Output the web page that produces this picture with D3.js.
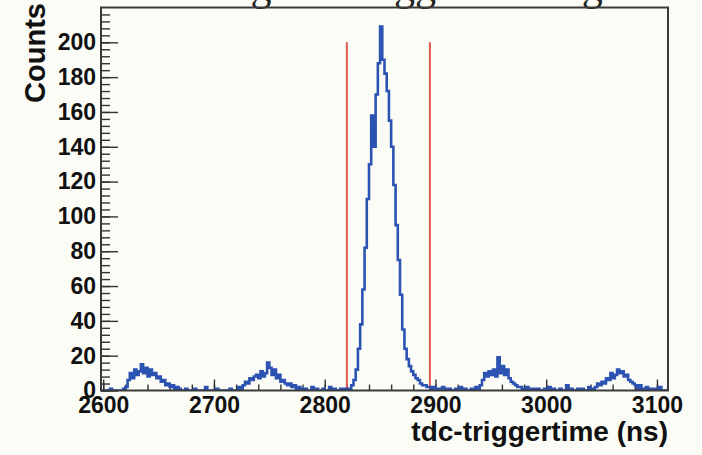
<!DOCTYPE html>
<html>
<head>
<meta charset="utf-8">
<script src="https://cdn.jsdelivr.net/npm/d3@7"></script>
<style>
  body { margin: 0; background: #fcfcf7; }
  svg { display: block; }
  .tick text { font-family: "Liberation Sans", Arial, sans-serif; font-weight: bold; fill: #111; }
</style>
</head>
<body>
<div id="chart"></div>
<script>
// histogram: 2 ns bins starting at 2598 ns
const binStart = 2598;
const binWidth = 2;
const counts = [
  // 2598 - 2618
  0, 0, 0, 0, 1, 0, 0, 0, 0, 0, 1,
  // 2620 - 2668
  2, 6, 10, 7, 12, 9, 11, 15, 10, 13, 8, 12, 9, 10, 7, 8, 5, 6, 3, 4, 2, 3, 1, 2, 1,
  // 2670 - 2724
  0, 0, 1, 0, 0, 0, 1, 0, 0, 0, 0, 2, 0, 0, 0, 0, 1, 0, 0, 0, 0, 0, 1, 0, 0, 0, 2, 1,
  // 2726 - 2778
  3, 5, 4, 7, 6, 8, 9, 7, 11, 8, 10, 16, 13, 9, 12, 7, 9, 5, 6, 4, 3, 4, 2, 3, 1, 2, 1,
  // 2780 - 2818
  0, 1, 0, 0, 2, 0, 1, 0, 0, 1, 0, 0, 2, 0, 1, 0, 0, 1, 0, 1,
  // 2820 - 2896 (main peak)
  0, 1, 3, 6, 12, 24, 38, 58, 82, 110, 130, 158, 140, 170, 188, 209, 190, 182, 172, 155,
  140, 118, 95, 75, 55, 35, 24, 18, 14, 11, 9, 7, 6, 4, 3, 3, 2, 2, 1,
  // 2898 - 2938
  2, 1, 0, 1, 2, 0, 1, 1, 0, 0, 1, 0, 2, 0, 1, 0, 0, 1, 0, 2, 1,
  // 2940 - 2988
  3, 6, 10, 8, 11, 9, 12, 8, 19, 10, 14, 9, 12, 7, 5, 4, 3, 2, 2, 1, 1, 2, 1, 0, 1,
  // 2990 - 3042
  0, 1, 0, 0, 1, 0, 2, 0, 1, 0, 0, 1, 0, 0, 3, 0, 1, 0, 0, 1, 0, 1, 0, 0, 2, 1, 1,
  // 3044 - 3094
  2, 4, 3, 5, 4, 7, 6, 10, 7, 9, 12, 10, 11, 8, 9, 6, 5, 4, 3, 1, 3, 1, 0, 2, 0, 1,
  // 3096 - 3108
  0, 1, 0, 2, 0, 0, 0
];
const cutLines = [2820, 2895];
const cutHeight = 200;
const xTickValues = [2600, 2700, 2800, 2900, 3000, 3100];
const yTickValues = [0, 20, 40, 60, 80, 100, 120, 140, 160, 180, 200];
const titleText = "The timing of a triggertime signal";
const xTitle = "tdc-triggertime (ns)";
const yTitle = "Counts";

const W = 702, H = 455;
const frame = { left: 101, right: 668, top: 7.5, bottom: 390.5 };

const svg = d3.select("#chart").append("svg")
  .attr("width", W).attr("height", H)
  .style("background", "#fcfcf7");

const x = d3.scaleLinear()
  .domain([binStart, binStart + binWidth * counts.length])
  .range([frame.left, frame.right]);
const y = d3.scaleLinear()
  .domain([0, 220])
  .range([frame.bottom, frame.top]);

// title, mostly cut off at the top edge
svg.append("text")
  .attr("x", 86).attr("y", 0)
  .style("font-family", "'Liberation Serif', 'Times New Roman', serif")
  .style("font-size", "42px")
  .style("fill", "#222")
  .text(titleText);

// axes (ticks point into the frame)
function styleAxis(g) {
  g.select(".domain").remove();
  g.selectAll(".tick line").attr("stroke", "#333").attr("stroke-width", 1.4);
}

svg.append("g")
  .attr("transform", `translate(0,${frame.bottom})`)
  .call(d3.axisBottom(x).tickValues(d3.range(2600, 3101, 20)).tickSize(-6).tickFormat(""))
  .call(styleAxis);
svg.append("g")
  .attr("transform", `translate(0,${frame.bottom})`)
  .call(d3.axisBottom(x).tickValues(xTickValues).tickSize(-11).tickPadding(6).tickFormat(d3.format("d")))
  .call(styleAxis)
  .selectAll("text").style("font-size", "23px");

svg.append("g")
  .attr("transform", `translate(${frame.left},0)`)
  .call(d3.axisLeft(y).tickValues(d3.range(0, 217, 4)).tickSize(-9).tickFormat(""))
  .call(styleAxis);
svg.append("g")
  .attr("transform", `translate(${frame.left},0)`)
  .call(d3.axisLeft(y).tickValues(yTickValues).tickSize(-17).tickPadding(5).tickFormat(d3.format("d")))
  .call(styleAxis)
  .selectAll("text").style("font-size", "23px");

// red cut lines
svg.append("g").selectAll("line")
  .data(cutLines)
  .join("line")
  .attr("x1", d => x(d)).attr("x2", d => x(d))
  .attr("y1", y(0)).attr("y2", y(cutHeight))
  .attr("stroke", "#e2564c")
  .attr("stroke-width", 2);

// histogram outline
const pts = [];
counts.forEach((c, i) => {
  const e0 = binStart + i * binWidth;
  pts.push([e0, c], [e0 + binWidth, c]);
});
svg.append("clipPath").attr("id", "clip")
  .append("rect")
  .attr("x", frame.left).attr("y", frame.top)
  .attr("width", frame.right - frame.left).attr("height", frame.bottom - frame.top);
svg.append("path")
  .datum(pts)
  .attr("clip-path", "url(#clip)")
  .attr("fill", "none")
  .attr("stroke", "#2c52b2")
  .attr("stroke-width", 2.6)
  .attr("stroke-linejoin", "miter")
  .attr("d", d3.line().x(d => x(d[0])).y(d => y(d[1])));

// frame
svg.append("rect")
  .attr("x", frame.left).attr("y", frame.top)
  .attr("width", frame.right - frame.left).attr("height", frame.bottom - frame.top)
  .attr("fill", "none")
  .attr("stroke", "#3a3a3a")
  .attr("stroke-width", 2);

// axis titles
svg.append("text")
  .attr("x", frame.right).attr("y", 441)
  .attr("text-anchor", "end")
  .style("font-family", "'Liberation Sans', Arial, sans-serif")
  .style("font-weight", "bold")
  .style("font-size", "28px")
  .style("fill", "#111")
  .text(xTitle);

svg.append("text")
  .attr("transform", "translate(45,3) rotate(-90)")
  .attr("text-anchor", "end")
  .style("font-family", "'Liberation Sans', Arial, sans-serif")
  .style("font-weight", "bold")
  .style("font-size", "29px")
  .style("fill", "#111")
  .text(yTitle);
</script>
</body>
</html>
